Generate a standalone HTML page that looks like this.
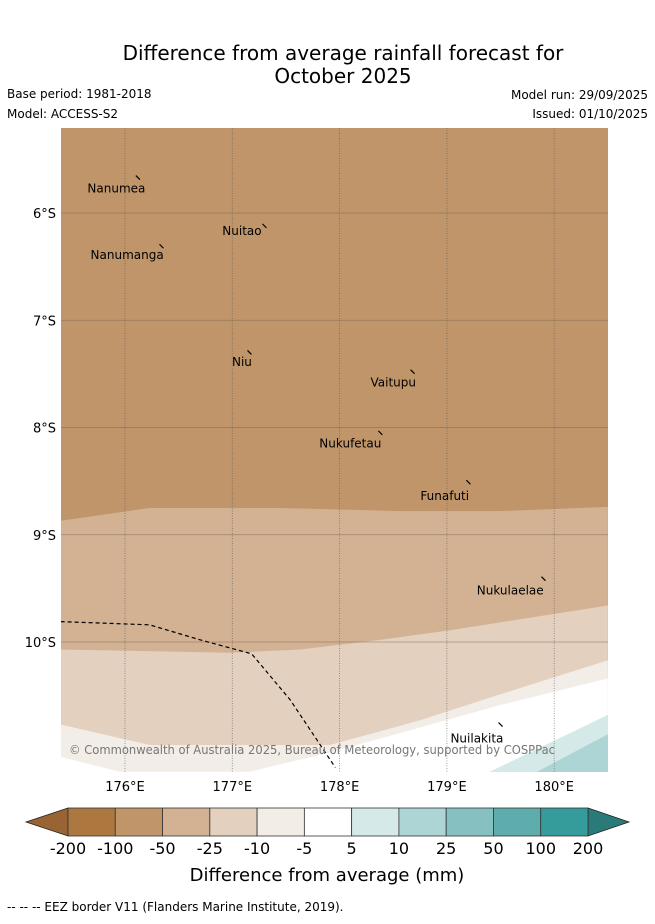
<!DOCTYPE html>
<html><head><meta charset="utf-8"><style>
body{margin:0;background:#fff;font-family:"Liberation Sans","DejaVu Sans",sans-serif}
svg text{font-family:"DejaVu Sans","Liberation Sans",sans-serif}
</style></head><body>
<svg id="chart" width="655" height="919" viewBox="0 0 655 919" xmlns="http://www.w3.org/2000/svg">
<text x="343" y="60" font-size="20" text-anchor="middle">Difference from average rainfall forecast for</text>
<text x="343" y="83" font-size="20" text-anchor="middle">October 2025</text>
<text x="7" y="98" font-size="12">Base period: 1981-2018</text>
<text x="7" y="118" font-size="12">Model: ACCESS-S2</text>
<text x="648" y="99" font-size="12" text-anchor="end">Model run: 29/09/2025</text>
<text x="648" y="118" font-size="12" text-anchor="end">Issued: 01/10/2025</text>
<defs><clipPath id="mapclip"><rect x="61" y="128" width="547" height="644"/></clipPath></defs>
<g id="map" clip-path="url(#mapclip)"></g>
<g id="axes"></g>
<g id="cbar"></g>
<text x="327" y="881" font-size="18" text-anchor="middle">Difference from average (mm)</text>
<text x="7" y="911" font-size="12">--  --  -- EEZ border V11 (Flanders Marine Institute, 2019).</text>
</svg>
<script>
// ---- data ----
const lonTicks=[176,177,178,179,180];
const latTicks=[6,7,8,9,10];
const b50Lon=[175.4,176.23,177.44,178.56,179.49,180.5];
const b50Lat=[-8.87,-8.75,-8.75,-8.78,-8.78,-8.74];
const b25Lon=[175.4,176.98,177.63,178.38,179.03,180.5];
const b25Lat=[-10.07,-10.10,-10.07,-9.98,-9.89,-9.66];
const b10Lon=[175.4,176.23,177.91,178.75,179.49,180.5];
const b10Lat=[-10.77,-10.96,-10.96,-10.73,-10.49,-10.17];
const b5Lon=[175.4,175.95,177.16,177.91,178.56,179.49,180.5];
const b5Lat=[-11.07,-11.21,-11.21,-11.03,-10.85,-10.59,-10.34];
const p5Lon=[179.40,180.5];
const p5Lat=[-11.21,-10.68];
const p10Lon=[179.84,180.5];
const p10Lat=[-11.21,-10.86];
const eezLon=[175.4,176.23,176.70,177.18,177.54,177.96];
const eezLat=[-9.81,-9.84,-9.98,-10.11,-10.54,-11.17];
const islandNames=["Nanumea","Nuitao","Nanumanga","Niu","Vaitupu","Nukufetau","Funafuti","Nukulaelae","Nuilakita"];
const labelLon=[175.92,177.09,176.02,177.09,178.50,178.10,178.98,179.59,179.28];
const labelLat=[-5.77,-6.17,-6.39,-7.39,-7.58,-8.15,-8.64,-9.52,-10.90];
const islandLon=[176.12,177.30,176.34,177.16,178.68,178.38,179.20,179.90,179.50];
const islandLat=[-5.67,-6.12,-6.31,-7.30,-7.48,-8.05,-8.51,-9.41,-10.77];
const cbarLabels=["-200","-100","-50","-25","-10","-5","5","10","25","50","100","200"];
const cbarColors=["#ad7840","#c0956a","#d3b293","#e3d0bf","#f2ede7","#ffffff","#d4e9e8","#aed5d5","#87c0c0","#5eacac","#359b9b"];
// ---- axes ----
const X=lon=>125+(lon-176)*107.3;
const Y=lat=>213+(-lat-6)*107.25;
const NS="http://www.w3.org/2000/svg";
function mk(tag,parent,attrs){const e=document.createElementNS(NS,tag);for(const k in attrs)e.setAttribute(k,attrs[k]);parent.appendChild(e);return e;}
const map=document.getElementById('map'),axes=document.getElementById('axes'),cb=document.getElementById('cbar');
let bg=mk('rect',map,{x:61,y:128,width:547,height:644,fill:'#c0956a'});


function band(lons,lats,fill,name,corner){
  let pts=lons.map((l,i)=>X(l)+','+Y(lats[i]));
  if(corner){pts.push('700,900');}else{pts.push(X(lons[lons.length-1])+',900');pts.push(X(lons[0])+',900');}
  const p=mk('polygon',map,{points:pts.join(' '),fill:fill});
  
  
}
band(b50Lon,b50Lat,'#d3b293','band-minus50-to-minus25');
band(b25Lon,b25Lat,'#e3d0bf','band-minus25-to-minus10');
band(b10Lon,b10Lat,'#f2ede7','band-minus10-to-minus5');
band(b5Lon,b5Lat,'#ffffff','band-minus5-to-5');
band(p5Lon,p5Lat,'#d4e9e8','band-5-to-10',true);
band(p10Lon,p10Lat,'#aed5d5','band-10-to-25',true);
lonTicks.forEach(l=>{
  const g=mk('line',map,{x1:X(l),x2:X(l),y1:128,y2:772,stroke:'#555',"stroke-width":0.8,"stroke-dasharray":"1,1.5","stroke-opacity":0.7});
  
  
  const t=mk('text',axes,{x:X(l),y:791,"font-size":13,"text-anchor":"middle"});t.textContent=l+'°E';
  
  
});
latTicks.forEach(l=>{
  const g=mk('line',map,{x1:61,x2:608,y1:Y(-l),y2:Y(-l),stroke:'#7a6550',"stroke-width":0.8,"stroke-opacity":0.6});
  
  
  const t=mk('text',axes,{x:56,y:Y(-l)+5,"font-size":13,"text-anchor":"end"});t.textContent=l+'°S';
  
  
});
const eez=mk('polyline',map,{points:eezLon.map((l,i)=>X(l)+','+Y(eezLat[i])).join(' '),fill:'none',stroke:'#000',"stroke-width":1.2,"stroke-dasharray":"4,3"});


islandNames.forEach((n,i)=>{
  const m=mk('line',map,{x1:X(islandLon[i])-2,y1:Y(islandLat[i])-2,x2:X(islandLon[i])+2,y2:Y(islandLat[i])+2,stroke:'#000',"stroke-width":1.2});
  
  
  const t=mk('text',map,{x:X(labelLon[i]),y:Y(labelLat[i])+4,"font-size":12,"text-anchor":"middle"});t.textContent=n;
  
  
});
const cr=mk('text',map,{x:69,y:754,"font-size":12,fill:'#777',textLength:486,lengthAdjust:'spacingAndGlyphs'});cr.textContent='© Commonwealth of Australia 2025, Bureau of Meteorology, supported by COSPPac';


// colorbar
const cx0=68,cx1=588,cy=808,ch=28,w=(cx1-cx0)/cbarColors.length;
const lt=mk('polygon',cb,{points:`${cx0},${cy} 26,${cy+ch/2} ${cx0},${cy+ch}`,fill:'#9a6334',stroke:'#222',"stroke-width":0.8});


const rt=mk('polygon',cb,{points:`${cx1},${cy} 629,${cy+ch/2} ${cx1},${cy+ch}`,fill:'#2a7a7a',stroke:'#222',"stroke-width":0.8});


cbarColors.forEach((c,i)=>{
  const r=mk('rect',cb,{x:cx0+i*w,y:cy,width:w,height:ch,fill:c,stroke:'#333',"stroke-width":0.8});
  
  
});
cbarLabels.forEach((s,i)=>{
  const t=mk('text',cb,{x:cx0+i*w,y:854,"font-size":16,"text-anchor":"middle"});t.textContent=s;
  
  
});
</script>
</body></html>
